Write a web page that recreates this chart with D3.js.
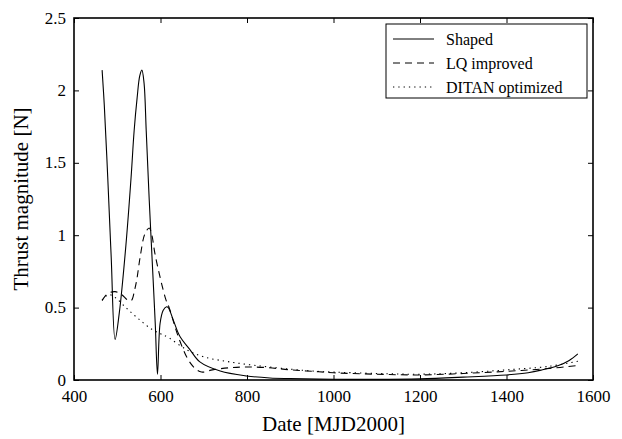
<!DOCTYPE html>
<html>
<head>
<meta charset="utf-8">
<script src="https://cdn.jsdelivr.net/npm/d3@7"></script>
<style>
  html, body { margin: 0; padding: 0; background: #fff; }
  svg { display: block; }
  text { font-family: "Liberation Serif", "Times New Roman", serif; fill: #000; }
</style>
</head>
<body>
<svg id="chart" width="622" height="439"></svg>
<script>
// ---- data ----
const xTicks = [400, 600, 800, 1000, 1200, 1400, 1600];
const yTicks = [0, 0.5, 1, 1.5, 2, 2.5];
const yTickLabels = ["0", "0.5", "1", "1.5", "2", "2.5"];
const seriesNames = ["Shaped", "LQ improved", "DITAN optimized"];

const shapedDate = [465, 470, 478, 486, 495, 505, 520, 532, 539, 546, 552, 557, 562, 567, 574, 583, 588, 593, 599, 606, 614, 618, 630, 645, 668, 691, 738, 799, 853, 900, 1000, 1100, 1200, 1300, 1400, 1450, 1480, 1520, 1545, 1565];
const shapedThrust = [2.14, 1.90, 1.40, 0.85, 0.28, 0.47, 0.93, 1.40, 1.72, 1.95, 2.10, 2.14, 2.05, 1.72, 1.24, 0.69, 0.38, 0.04, 0.39, 0.48, 0.506, 0.50, 0.41, 0.30, 0.21, 0.125, 0.062, 0.028, 0.014, 0.01, 0.005, 0.004, 0.008, 0.02, 0.035, 0.05, 0.068, 0.10, 0.135, 0.18];

const lqDate = [465, 472, 480, 495, 510, 525, 533, 540, 545, 553, 564, 574, 580, 587, 599, 613, 620, 641, 664, 680, 695, 720, 760, 800, 850, 900, 950, 1000, 1100, 1200, 1300, 1400, 1500, 1565];
const lqThrust = [0.55, 0.58, 0.60, 0.61, 0.59, 0.55, 0.55, 0.62, 0.69, 0.85, 1.01, 1.05, 1.00, 0.875, 0.71, 0.55, 0.50, 0.30, 0.14, 0.08, 0.055, 0.07, 0.085, 0.09, 0.085, 0.07, 0.06, 0.05, 0.04, 0.035, 0.045, 0.06, 0.08, 0.10];

const ditanDate = [465, 480, 495, 520, 550, 580, 600, 620, 660, 700, 760, 830, 900, 960, 1000, 1100, 1200, 1300, 1400, 1500, 1565];
const ditanThrust = [0.55, 0.59, 0.57, 0.50, 0.42, 0.35, 0.32, 0.29, 0.21, 0.16, 0.125, 0.097, 0.075, 0.06, 0.055, 0.045, 0.04, 0.05, 0.07, 0.095, 0.13];

// ---- layout ----
const svg = d3.select("#chart");
const pL = 74, pR = 593, pT = 18, pB = 380;
const x = d3.scaleLinear().domain([400, 1600]).range([pL, pR]);
const y = d3.scaleLinear().domain([0, 2.5]).range([pB, pT]);
const tickLen = 5;

svg.append("defs").append("clipPath").attr("id", "clip")
  .append("rect").attr("x", pL).attr("y", pT)
  .attr("width", pR - pL).attr("height", pB - pT);

// axes with inward ticks on all four sides
const xb = svg.append("g").attr("transform", `translate(0,${pB})`)
  .call(d3.axisBottom(x).tickValues(xTicks).tickSizeInner(-tickLen).tickSizeOuter(0).tickPadding(10).tickFormat(d3.format("d")));
const xt = svg.append("g").attr("transform", `translate(0,${pT})`)
  .call(d3.axisTop(x).tickValues(xTicks).tickSizeInner(-tickLen).tickSizeOuter(0).tickFormat(""));
const yl = svg.append("g").attr("transform", `translate(${pL},0)`)
  .call(d3.axisLeft(y).tickValues(yTicks).tickSizeInner(-tickLen).tickSizeOuter(0).tickPadding(8)
    .tickFormat((d, i) => yTickLabels[i]));
const yr = svg.append("g").attr("transform", `translate(${pR},0)`)
  .call(d3.axisRight(y).tickValues(yTicks).tickSizeInner(-tickLen).tickSizeOuter(0).tickFormat(""));

[xb, xt, yl, yr].forEach(g => {
  g.select(".domain").remove();
  g.selectAll(".tick line").attr("stroke", "#000").attr("stroke-width", 1);
  g.selectAll("text").style("font-family", '"Liberation Serif", serif').style("font-size", "17px").attr("fill", "#000");
});
xb.selectAll("text").attr("dy", "0.71em");
yl.selectAll("text").attr("dy", "0.3em");

// box
svg.append("rect").attr("x", pL).attr("y", pT)
  .attr("width", pR - pL).attr("height", pB - pT)
  .attr("fill", "none").attr("stroke", "#000").attr("stroke-width", 1.6);

// lines
const series = [
  { name: seriesNames[0], xs: shapedDate, ys: shapedThrust, dash: null },
  { name: seriesNames[1], xs: lqDate, ys: lqThrust, dash: "7,5" },
  { name: seriesNames[2], xs: ditanDate, ys: ditanThrust, dash: "1.3,4" }
];
const line = d3.line().x(d => x(d[0])).y(d => y(d[1])).curve(d3.curveCatmullRom.alpha(0.5));
const plot = svg.append("g").attr("clip-path", "url(#clip)");
series.forEach(s => {
  const pts = s.xs.map((v, i) => [v, s.ys[i]]);
  plot.append("path").datum(pts).attr("d", line)
    .attr("fill", "none").attr("stroke", "#000").attr("stroke-width", 1.1)
    .attr("stroke-dasharray", s.dash);
});

// axis titles
svg.append("text").attr("x", (pL + pR) / 2).attr("y", 431)
  .attr("text-anchor", "middle").style("font-size", "21px").text("Date [MJD2000]");
svg.append("text").attr("transform", `translate(28,${(pT + pB) / 2}) rotate(-90)`)
  .attr("text-anchor", "middle").style("font-size", "21px").text("Thrust magnitude [N]");

// legend
const lg = svg.append("g");
lg.append("rect").attr("x", 386).attr("y", 24).attr("width", 201).attr("height", 74)
  .attr("fill", "#fff").attr("stroke", "#000").attr("stroke-width", 1);
const rowsY = [39, 63, 87];
series.forEach((s, i) => {
  lg.append("line").attr("x1", 393).attr("x2", 434).attr("y1", rowsY[i]).attr("y2", rowsY[i])
    .attr("stroke", "#000").attr("stroke-width", 1).attr("stroke-dasharray", s.dash);
  lg.append("text").attr("x", 446).attr("y", rowsY[i]).attr("dy", "0.35em")
    .style("font-size", "16px").text(s.name);
});
</script>
</body>
</html>
